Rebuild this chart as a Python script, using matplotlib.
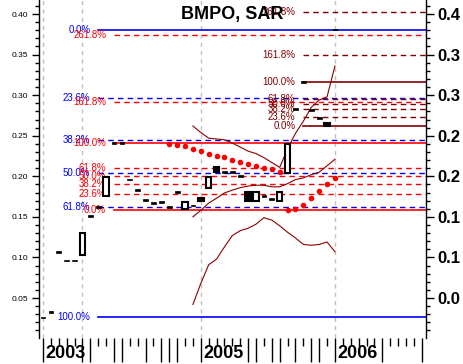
import math
import matplotlib
matplotlib.use("Agg")
import matplotlib.pyplot as plt
import matplotlib.transforms as mtransforms

plt.rcParams['font.family'] = ['Liberation Sans', 'DejaVu Sans']

# bar index -> open / close (open == close means a flat bar)
bar_idx = list(range(38))
opens = [0.026, 0.033, 0.107, 0.096, 0.096, 0.103, 0.151, 0.162, 0.176, 0.241,
         0.241, 0.196, 0.183, 0.171, 0.167, 0.168, 0.162, 0.181, 0.160, 0.164,
         0.173, 0.186, 0.212, 0.205, 0.205, 0.200, 0.181, 0.170, 0.176, 0.172,
         0.170, 0.204, 0.283, 0.316, 0.282, 0.272, 0.266, 0.381]
closes = [0.026, 0.033, 0.107, 0.096, 0.096, 0.130, 0.151, 0.162, 0.199, 0.241,
          0.241, 0.196, 0.183, 0.171, 0.167, 0.168, 0.162, 0.181, 0.168, 0.164,
          0.170, 0.199, 0.205, 0.205, 0.205, 0.200, 0.170, 0.181, 0.176, 0.172,
          0.181, 0.240, 0.283, 0.316, 0.282, 0.272, 0.262, 0.381]

# SAR dots
sar_hi_idx = list(range(16, 31))
sar_hi = [0.240, 0.2387, 0.2374, 0.2337, 0.2313, 0.2276, 0.2251, 0.2239, 0.2202,
          0.2177, 0.2153, 0.2128, 0.2103, 0.2091, 0.2054]
sar_lo_idx = list(range(31, 38))
sar_lo = [0.1586, 0.160, 0.1648, 0.1734, 0.182, 0.1906, 0.198]

# envelope lines
band_idx = list(range(19, 38))
band_up = [0.262, 0.254, 0.247, 0.246, 0.245, 0.241, 0.236, 0.231, 0.228, 0.223,
           0.217, 0.211, 0.234, 0.253, 0.268, 0.285, 0.294, 0.298, 0.336]
band_mid = [0.150, 0.158, 0.167, 0.173, 0.1795, 0.183, 0.186, 0.188, 0.189, 0.189,
            0.187, 0.187, 0.191, 0.196, 0.198, 0.202, 0.205, 0.213, 0.221]
band_lo = [0.042, 0.068, 0.091, 0.098, 0.113, 0.127, 0.133, 0.136, 0.141, 0.149,
           0.146, 0.139, 0.131, 0.124, 0.116, 0.115, 0.116, 0.119, 0.107]

# fibonacci levels
blue_start = 7
blue_levels = [0.380, 0.2966, 0.245, 0.2035, 0.162, 0.027]
blue_labels = ['0.0%', '23.6%', '38.2%', '50.0%', '61.8%', '100.0%']
red_start = 9
red_levels = [0.3737, 0.2917, 0.241, 0.2097, 0.200, 0.1903, 0.1784, 0.159]
red_labels = ['261.8%', '161.8%', '100.0%', '61.8%', '50.0%', '38.2%', '23.6%', '0.0%']
dred_start = 33
dred_levels = [0.403, 0.3495, 0.316, 0.2954, 0.289, 0.2826, 0.2735, 0.262]
dred_labels = red_labels

year_lines = [0, 5, 20, 37]
year_text = [(0.3, '2003'), (20.3, '2005'), (37.3, '2006')]
yticks = [0.05, 0.10, 0.15, 0.20, 0.25, 0.30, 0.35, 0.40]
xmajor = [0, 5, 6, 9, 10, 13, 15, 16, 17, 20, 26, 27, 29, 30, 32, 34, 35, 37, 43, 48]

XMIN, XMAX = -0.507, 48.54
YMIN, YMAX = 0.0007, 0.4173
DRED = '#800000'

fig = plt.figure(figsize=(4.64, 3.64), dpi=100)
ax = fig.add_axes([39/464, 26/364, (426-39)/464, 338/364])
ax.set_xlim(XMIN, XMAX)
ax.set_ylim(YMIN, YMAX)

for x in year_lines:
    ax.axvline(x, color='#c0c0c0', lw=1, ls=(0, (3, 3)), zorder=0)

def fib(levels, labels, start, color):
    for lv, lb in zip(levels, labels):
        solid = lb in ('0.0%', '100.0%')
        ax.plot([start, XMAX], [lv, lv], color=color, lw=1.2 if solid else 1,
                ls='-' if solid else (0, (4, 3)), zorder=1)
        ax.text(start - 1, lv, lb, color=color, fontsize=7, ha='right', va='center', zorder=2)

fib(blue_levels, blue_labels, blue_start, 'blue')
fib(red_levels, red_labels, red_start, 'red')
fib(dred_levels, dred_labels, dred_start, DRED)

for band in (band_up, band_mid, band_lo):
    ax.plot(band_idx, band, color='#8b0000', lw=0.8, zorder=3)

ax.plot(sar_hi_idx, sar_hi, 'o', color='red', ms=3, zorder=4)
ax.plot(sar_lo_idx, sar_lo, 'o', color='red', ms=3, zorder=4)

# bodies with a real height, then flat bars as short thick dashes
body = [i for i in bar_idx if opens[i] != closes[i]]
flat = [i for i in bar_idx if opens[i] == closes[i]]
ax.bar(body, [abs(closes[i] - opens[i]) for i in body],
       bottom=[min(opens[i], closes[i]) for i in body], width=0.7,
       color=['black' if closes[i] < opens[i] else 'white' for i in body],
       edgecolor='black', linewidth=1.5, zorder=5)
ax.bar(flat, [0.002] * len(flat), bottom=[opens[i] - 0.001 for i in flat],
       width=0.6, color='black', edgecolor='black', linewidth=0.5, zorder=5)

for s in ('top', 'right', 'bottom'):
    ax.spines[s].set_visible(False)
ax.spines['left'].set_linewidth(1)
ax.set_yticks(yticks)
ax.set_yticklabels(['%.2f' % v for v in yticks])
ax.set_yticks([v / 100 for v in range(1, 42)], minor=True)
ax.tick_params(axis='y', which='major', length=5, width=1, labelsize=6, pad=3)
ax.tick_params(axis='y', which='minor', length=3, width=1)

ax.set_xticks(xmajor)
ax.set_xticks([i for i in range(49) if i not in xmajor], minor=True)
ax.tick_params(axis='x', which='major', length=17, width=1, labelbottom=False)
ax.tick_params(axis='x', which='minor', length=6, width=1)

trans = mtransforms.blended_transform_factory(ax.transData, ax.transAxes)
for x, t in year_text:
    ax.text(x, -15/338, t, transform=trans, ha='left', va='center',
            fontsize=13, fontweight='bold')

ax2 = ax.twinx()
ax2.set_ylim(YMIN, YMAX)
for s in ('top', 'left', 'bottom'):
    ax2.spines[s].set_visible(False)
ax2.spines['right'].set_linewidth(1)
ax2.set_yticks(yticks)
ax2.set_yticklabels(['%.1f' % (math.floor(v * 10 + 1e-9) / 10) for v in yticks],
                    fontweight='bold')
ax2.set_yticks([v / 100 for v in range(1, 42)], minor=True)
ax2.tick_params(axis='y', which='major', length=6, width=1, labelsize=12, pad=2)
ax2.tick_params(axis='y', which='minor', length=3, width=1)

fig.text(232/464, 1 - 14/364, 'BMPO, SAR', ha='center', va='center',
         fontsize=13, fontweight='bold', zorder=10)

fig.savefig('out.png', dpi=100)
